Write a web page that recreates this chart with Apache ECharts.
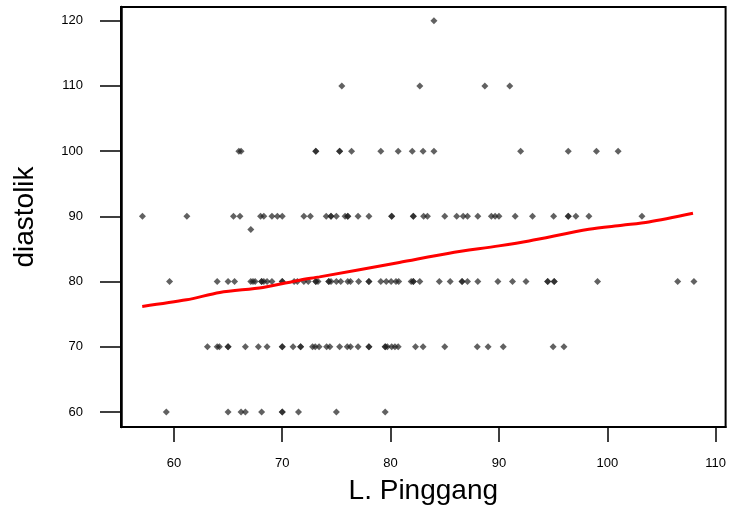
<!DOCTYPE html>
<html>
<head>
<meta charset="utf-8">
<script src="https://cdn.jsdelivr.net/npm/echarts@6/dist/echarts.min.js"></script>
<style>html,body{margin:0;padding:0;background:#fff;}#c{width:729px;height:510px;}</style>
</head>
<body>
<div id="c"></div>
<script>
// waist circumference (L. Pinggang) values observed at each diastolic level
const waistAt60 = [59.3, 65.0, 66.2, 66.6, 68.1, 70.0, 70.0, 71.5, 75.0, 79.5];
const waistAt70 = [63.1, 64.0, 64.2, 65.0, 65.0, 66.6, 67.8, 68.6, 70.0, 70.0, 71.0, 71.7, 71.7, 72.8, 73.05, 73.4, 74.1, 74.4, 75.3, 76.0, 76.3, 77.0, 78.0, 78.0, 79.5, 79.5, 79.7, 80.1, 80.4, 80.7, 82.3, 83.0, 85.0, 88.0, 89.0, 90.4, 95.0, 96.0];
const waistAt80 = [59.6, 64.0, 65.0, 65.6, 67.1, 67.3, 67.5, 68.1, 68.1, 68.3, 68.6, 69.05, 70.0, 70.0, 71.1, 71.4, 72.0, 72.4, 73.1, 73.1, 73.3, 74.3, 74.3, 74.5, 75.0, 75.4, 76.05, 76.3, 77.05, 78.0, 78.0, 79.1, 79.6, 80.05, 80.5, 80.75, 81.9, 82.1, 82.1, 82.7, 84.5, 85.5, 86.6, 86.6, 87.1, 88.05, 89.9, 91.25, 92.5, 94.5, 94.5, 95.1, 95.1, 99.1, 106.5, 108.0];
const waistAt88 = [67.1];
const waistAt90 = [57.1, 61.2, 65.5, 66.1, 68.0, 68.3, 69.05, 69.55, 70.0, 72.0, 72.6, 74.06, 74.5, 74.5, 75.0, 75.8, 76.05, 76.05, 77.0, 78.0, 80.1, 80.1, 82.1, 82.1, 83.05, 83.4, 85.0, 86.1, 86.7, 87.1, 88.05, 89.3, 89.65, 90.0, 91.5, 93.1, 95.05, 96.4, 96.4, 97.1, 98.3, 103.2];
const waistAt100 = [66.0, 66.2, 73.1, 73.1, 75.3, 75.3, 76.4, 79.1, 80.7, 82.0, 83.0, 84.0, 92.0, 96.4, 99.0, 101.0];
const waistAt110 = [75.5, 82.7, 88.7, 91.0];
const waistAt120 = [84.0];
const diastolicLevels = [60, 70, 80, 88, 90, 100, 110, 120];

// smoothed (lowess) fit
const fitX = [57.08, 61.17, 64.24, 68.22, 71.6, 73.44, 80.81, 85.41, 90.0, 92.78, 98.3, 101.37, 103.83, 107.91];
const fitY = [76.19, 77.2, 78.33, 79.1, 80.21, 80.72, 82.93, 84.35, 85.47, 86.23, 88.02, 88.64, 89.14, 90.47];

const xTicks = [60, 70, 80, 90, 100, 110];
const yTicks = [60, 70, 80, 90, 100, 110, 120];

const groups = [waistAt60, waistAt70, waistAt80, waistAt88, waistAt90, waistAt100, waistAt110, waistAt120];
const scatterData = [];
groups.forEach((arr, i) => arr.forEach(w => scatterData.push([w, diastolicLevels[i]])));
const fitData = fitX.map((x, i) => [x, fitY[i]]);

const FONT = '"Liberation Sans", Arial, sans-serif';
const chart = echarts.init(document.getElementById('c'), null, {renderer: 'canvas'});
chart.setOption({
  animation: false,
  backgroundColor: '#fff',
  grid: {left: 121, right: 3, top: 7, bottom: 82, show: true, borderColor: '#000', borderWidth: 2, backgroundColor: '#fff'},
  xAxis: {
    type: 'value', min: 55.12, max: 110.92,
    name: 'L. Pinggang', nameLocation: 'middle', nameGap: 50,
    nameTextStyle: {fontFamily: FONT, fontSize: 28, color: '#000'},
    axisLine: {show: true, lineStyle: {color: '#000', width: 2}},
    axisTick: {show: true, inside: false, length: 15, customValues: xTicks, lineStyle: {color: '#000', width: 1.5}},
    axisLabel: {customValues: xTicks, margin: 30, fontFamily: FONT, fontSize: 13, color: '#000'},
    splitLine: {show: false}
  },
  yAxis: {
    type: 'value', min: 57.7, max: 122.1,
    name: 'diastolik', nameLocation: 'middle', nameGap: 82, nameRotate: 90,
    nameTextStyle: {fontFamily: FONT, fontSize: 28, color: '#000'},
    axisLine: {show: true, lineStyle: {color: '#000', width: 2.5}},
    axisTick: {show: true, inside: false, length: 21, customValues: yTicks, lineStyle: {color: '#000', width: 1.5}},
    axisLabel: {customValues: yTicks, margin: 38, fontFamily: FONT, fontSize: 13, color: '#000'},
    splitLine: {show: false}
  },
  series: [
    {type: 'scatter', data: scatterData, symbol: 'diamond', symbolSize: 7,
     itemStyle: {color: 'rgba(30,30,30,0.88)'}, z: 2},
    {type: 'line', data: fitData, showSymbol: false, symbol: 'none', smooth: 0.3,
     lineStyle: {color: '#ff0000', width: 3}, z: 3}
  ]
});
</script>
</body>
</html>
